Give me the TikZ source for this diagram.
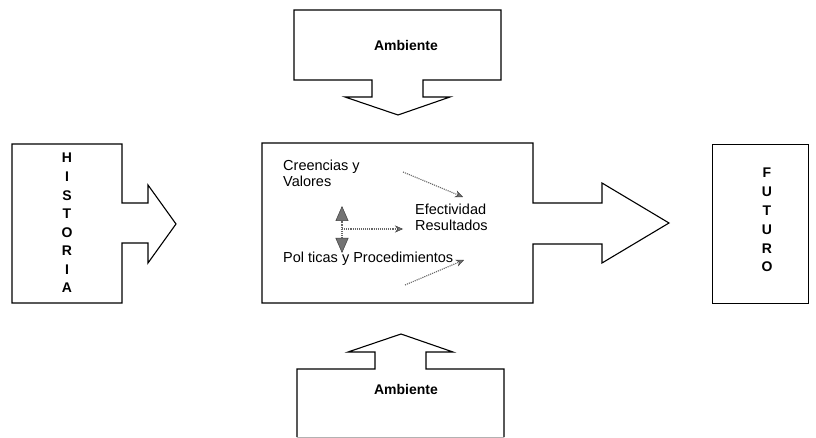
\documentclass[tikz,border=0pt]{standalone}
\usepackage{fontspec}
\setmainfont{Liberation Sans}
\usetikzlibrary{arrows.meta}
\begin{document}
\begin{tikzpicture}[x=1pt,y=-1pt,
  outline/.style={draw=black,line width=1.1pt,line join=miter,fill=white},
  lbl/.style={font=\fontsize{14.5}{16}\selectfont,inner sep=0pt,anchor=base west},
  blbl/.style={font=\bfseries\fontsize{14}{16}\selectfont,inner sep=0pt,anchor=base},
  letter/.style={font=\bfseries\fontsize{14}{16}\selectfont,inner sep=0pt,anchor=base},
  flow/.style={draw=black!60,line width=1.1pt,densely dotted,
     -{Stealth[length=8pt,width=7pt,fill=black!55,color=black!75,line width=0.5pt]}},
  bigflow/.style={draw=black!60,line width=1.1pt,densely dotted,
     {Triangle[length=15pt,width=13pt,fill=black!55,color=black!75,line width=0.5pt]}-{Triangle[length=15pt,width=13pt,fill=black!55,color=black!75,line width=0.5pt]}}
]
\useasboundingbox (0,0) rectangle (816,438);
% Historia
\draw[outline] (12,144) -- (122,144) -- (122,203) -- (148,203) -- (148,185) -- (176,224)
  -- (148,263) -- (148,243) -- (122,243) -- (122,303) -- (12,303) -- cycle;
\foreach \l [count=\i] in {H,I,S,T,O,R,I,A}
  \node[letter] (hist\i) at (67,{163+(\i-1)*18.57}) {\l};
% Center
\draw[outline] (262,143) -- (533,143) -- (533,203) -- (602,203) -- (602,183) -- (669,223)
  -- (602,263) -- (602,244) -- (533,244) -- (533,303) -- (262,303) -- cycle;
% Futuro
\draw[outline] (712.5,144.5) rectangle (808.5,303.5);
\foreach \l [count=\i] in {F,U,T,U,R,O}
  \node[letter] (fut\i) at (767,{178+(\i-1)*18.8}) {\l};
% Top Ambiente
\draw[outline] (294,10) -- (501,10) -- (501,80) -- (423,80) -- (423,97) -- (450,97) -- (398,115)
  -- (345,97) -- (372,97) -- (372,80) -- (294,80) -- cycle;
\node[blbl] (amb1) at (406,51) {Ambiente};
% Bottom Ambiente
\draw[outline] (297,437) -- (297,369) -- (375,369) -- (375,352) -- (348,352) -- (401,334)
  -- (453,352) -- (426,352) -- (426,369) -- (504,369) -- (504,437);
\draw[line width=0.5pt,black!30] (297,437) -- (504,437);
\node[blbl] (amb2) at (406,394) {Ambiente};
% Center texts
\node[lbl] (cv1) at (283,171) {Creencias y};
\node[lbl] (cv2) at (283,187) {Valores};
\node[lbl] (er1) at (415,215) {Efectividad};
\node[lbl] (er2) at (415,231) {Resultados};
\node[lbl] (pp) at (283,262) {Pol ticas y Procedimientos};
% Hatched arrows
\coordinate (a1s) at (403,172);
\coordinate (a1e) at (463,197);
\coordinate (a3s) at (405,285);
\coordinate (a3e) at (464,260);
\coordinate (hs) at (342,229);
\coordinate (he) at (403,229);
\coordinate (vt) at (342,206);
\coordinate (vb) at (342,253);
\draw[flow] (a1s) -- (a1e);
\draw[flow] (a3s) -- (a3e);
\draw[flow] (hs) -- (he);
\draw[bigflow] (vb) -- (vt);
\end{tikzpicture}
\end{document}
